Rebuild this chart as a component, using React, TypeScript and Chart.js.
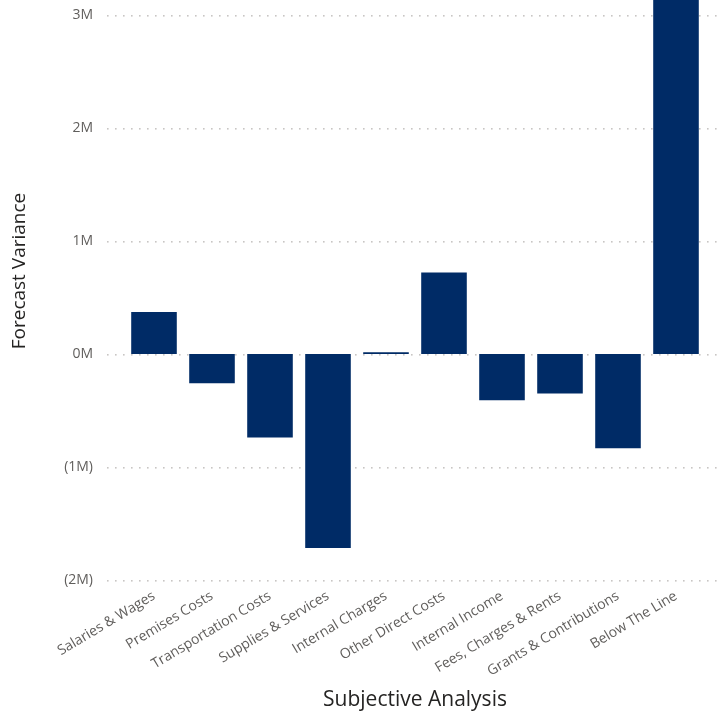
import React, { useEffect, useRef } from "react";
import { Chart, registerables } from "chart.js";

Chart.register(...registerables);

// Forecast variance by subjective analysis heading
const categories = [
  "Salaries & Wages",
  "Premises Costs",
  "Transportation Costs",
  "Supplies & Services",
  "Internal Charges",
  "Other Direct Costs",
  "Internal Income",
  "Fees, Charges & Rents",
  "Grants & Contributions",
  "Below The Line",
];
const forecastVariance = [
  370000, -260000, -740000, -1720000, 15000, 720000, -410000, -350000, -835000, 3300000,
];
const yTickValues = [-2000000, -1000000, 0, 1000000, 2000000, 3000000];
const yMin = -2000000;
const yMax = 3134000;

const BAR = "#002b66";
const TICK = "#605e5c";
const TITLE = "#252423";
const FONT = "'Open Sans', 'Noto Sans', sans-serif";

function formatMillions(v: number): string {
  const m = Math.round(Math.abs(v) / 1e6);
  return v < 0 ? `(${m}M)` : `${m}M`;
}

// dotted horizontal gridlines that run past the plot into the tick gutter
const dottedGrid = {
  id: "dottedGrid",
  beforeDatasetsDraw(chart: any) {
    const { ctx, chartArea, scales } = chart;
    const y = scales.y;
    ctx.save();
    ctx.fillStyle = "#c8c6c4";
    for (const t of y.ticks) {
      const py = Math.round(y.getPixelForValue(t.value));
      for (let x = chartArea.left - 18; x < chart.width; x += 8) {
        ctx.fillRect(x, py, 1.6, 1.6);
      }
    }
    ctx.restore();
  },
};

// vertical y-axis title
const yTitle = {
  id: "yTitle",
  afterDraw(chart: any) {
    const { ctx } = chart;
    ctx.save();
    ctx.translate(20, 271);
    ctx.rotate(-Math.PI / 2);
    ctx.font = `19px ${FONT}`;
    ctx.fillStyle = TITLE;
    ctx.textAlign = "center";
    ctx.textBaseline = "middle";
    ctx.fillText("Forecast Variance", 0, 0);
    ctx.restore();
  },
};

export default function App() {
  const ref = useRef<HTMLCanvasElement>(null);

  useEffect(() => {
    document.body.style.margin = "0";
    const chart = new Chart(ref.current!, {
      type: "bar",
      data: {
        labels: categories,
        datasets: [
          {
            data: forecastVariance,
            backgroundColor: BAR,
            borderWidth: 0,
            barPercentage: 0.786,
            categoryPercentage: 1,
          },
        ],
      },
      options: {
        animation: false,
        responsive: false,
        maintainAspectRatio: false,
        layout: { padding: { left: 0, right: 12, top: 0, bottom: 0 } },
        plugins: { legend: { display: false }, tooltip: { enabled: false } },
        scales: {
          x: {
            grid: { display: false },
            border: { display: false },
            ticks: {
              color: TICK,
              font: { family: FONT, size: 14 },
              minRotation: 31,
              maxRotation: 31,
              autoSkip: false,
              padding: 0,
            },
            title: {
              display: true,
              text: "Subjective Analysis",
              color: TITLE,
              font: { family: FONT, size: 21 },
              padding: { top: 8, bottom: -2 },
            },
          },
          y: {
            min: yMin,
            max: yMax,
            grid: { display: false, drawTicks: false },
            border: { display: false },
            afterBuildTicks(scale: any) {
              scale.ticks = yTickValues.map((value) => ({ value }));
            },
            afterFit(scale: any) {
              scale.width = 125;
              scale.paddingTop = 0;
              scale.paddingBottom = 0;
            },
            ticks: {
              color: TICK,
              font: { family: FONT, size: 14 },
              padding: 32,
              callback: (v: any) => formatMillions(Number(v)),
            },
          },
        },
      },
      plugins: [dottedGrid, yTitle],
    });
    return () => chart.destroy();
  }, []);

  return (
    <div style={{ position: "fixed", left: 0, top: 0, width: 717, height: 711, background: "#fff" }}>
      <canvas ref={ref} width={717} height={711} />
    </div>
  );
}
